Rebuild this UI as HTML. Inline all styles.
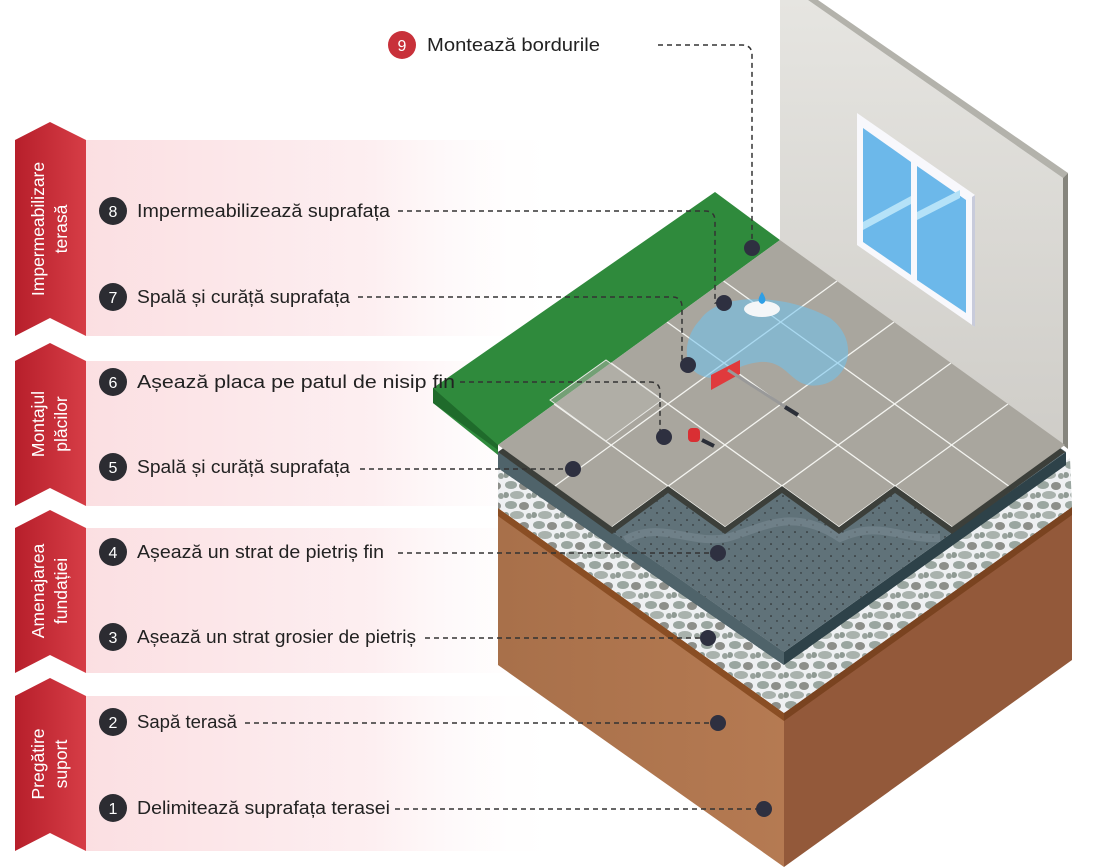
<!DOCTYPE html>
<html><head><meta charset="utf-8"><style>
html,body{margin:0;padding:0;background:#fff;}
svg{display:block;font-family:"Liberation Sans",sans-serif;}
</style></head><body>
<svg width="1100" height="867" viewBox="0 0 1100 867" xmlns="http://www.w3.org/2000/svg">
<defs>
<linearGradient id="pink" x1="0" x2="1" y1="0" y2="0"><stop offset="0" stop-color="#fbdfe2"/><stop offset="0.6" stop-color="#fdeff1"/><stop offset="1" stop-color="#ffffff" stop-opacity="0"/></linearGradient>
<linearGradient id="red" x1="0" x2="1"><stop offset="0" stop-color="#b71f2b"/><stop offset="1" stop-color="#d63d46"/></linearGradient>
<linearGradient id="soilL" x1="0" x2="1"><stop offset="0" stop-color="#a8704a"/><stop offset="1" stop-color="#b57a52"/></linearGradient>
<linearGradient id="wall" x1="0" x2="0" y1="0" y2="1"><stop offset="0" stop-color="#e6e5e1"/><stop offset="1" stop-color="#cfcdc8"/></linearGradient>
<pattern id="peb" width="28" height="20" patternUnits="userSpaceOnUse">
<rect width="28" height="20" fill="#eef0f2"/>
<ellipse cx="7" cy="5" rx="6" ry="4" fill="#9aa6a0"/><ellipse cx="20" cy="6" rx="5" ry="4" fill="#8d8f8a"/>
<ellipse cx="13" cy="15" rx="7" ry="4" fill="#a9b2ad"/><ellipse cx="25" cy="16" rx="3" ry="3" fill="#98a29c"/><ellipse cx="2" cy="15" rx="3" ry="3" fill="#8f9a94"/>
</pattern>
<pattern id="sand" width="12" height="12" patternUnits="userSpaceOnUse">
<rect width="12" height="12" fill="#607279"/><circle cx="3" cy="4" r="0.8" fill="#222"/><circle cx="9" cy="9" r="0.7" fill="#222"/>
</pattern>
<clipPath id="tclip"><polygon points="780,240 498,445 612,527 668,486 725,527 782,486 839,527 895,486 952,527 1065,445"/></clipPath>
</defs>

<rect x="86" y="140" width="480" height="196" fill="url(#pink)"/>
<rect x="86" y="361" width="480" height="145" fill="url(#pink)"/>
<rect x="86" y="528" width="480" height="145" fill="url(#pink)"/>
<rect x="86" y="696" width="480" height="155" fill="url(#pink)"/>
<polygon points="15,140 50,122 86,140 86,336 50,318 15,336" fill="url(#red)"/>
<polygon points="15,361 50,343 86,361 86,506 50,488 15,506" fill="url(#red)"/>
<polygon points="15,528 50,510 86,528 86,673 50,655 15,673" fill="url(#red)"/>
<polygon points="15,696 50,678 86,696 86,851 50,833 15,851" fill="url(#red)"/>
<g fill="#fff" font-size="17.5" text-anchor="middle">
<text transform="translate(44,229) rotate(-90)">Impermeabilizare</text>
<text transform="translate(67,229) rotate(-90)">terasă</text>
<text transform="translate(44,424) rotate(-90)">Montajul</text>
<text transform="translate(67,424) rotate(-90)">plăcilor</text>
<text transform="translate(44,591) rotate(-90)">Amenajarea</text>
<text transform="translate(67,591) rotate(-90)">fundației</text>
<text transform="translate(44,764) rotate(-90)">Pregătire</text>
<text transform="translate(67,764) rotate(-90)">suport</text>
</g>

<polygon points="780,0 808,0 1063,178 1063,445 780,240" fill="url(#wall)"/>
<polygon points="808,0 818,0 1068,173 1063,178" fill="#b3b2ab"/>
<polygon points="1063,178 1068,173 1068,449 1063,445" fill="#86857d"/>
<polygon points="857,113 975,195 975,327 857,245" fill="#f8f8fc"/>
<polygon points="972,197 975,195 975,327 972,325" fill="#c8cbdb"/>
<polygon points="863,128 911,162 911,275 863,242" fill="#6cb8ea"/>
<polygon points="917,166 966,200 966,313 917,280" fill="#6cb8ea"/>
<polygon points="863,222 911,196 911,204 863,230" fill="#b5e2f8"/>
<polygon points="917,212 960,190 960,198 917,220" fill="#b5e2f8"/>

<polygon points="433,388 715,192 780,240 498,445 498,455 433,403" fill="#2f8a3c"/>
<polygon points="433,388 433,403 498,450 498,445" fill="#1f6b2b"/>

<polygon points="498,508 784,713 784,867 498,665" fill="url(#soilL)"/>
<polygon points="784,713 1072,507 1072,660 784,867" fill="#93593a"/>
<polygon points="498,508 784,713 784,721 498,516" fill="#8a4e24"/>
<polygon points="784,713 1072,507 1072,515 784,721" fill="#7a4320"/>
<polygon points="498,462 784,665 1070,458 1072,507 784,713 498,508" fill="url(#peb)"/>
<polygon points="498,452 784,652 1066,452 1066,465 784,665 498,468" fill="#2e4249"/>
<polygon points="498,452 784,652 784,665 498,468" fill="#4f636a"/>
<polygon points="498,452 780,250 1066,452 784,652" fill="url(#sand)"/>
<path d="M625,540 C660,520 690,545 726,538 C760,530 790,505 840,538 C880,520 900,540 940,538" fill="none" stroke="#7a8b92" stroke-width="8" opacity="0.6"/>
<polygon transform="translate(0,7)" points="780,240 498,445 612,527 668,486 725,527 782,486 839,527 895,486 952,527 1065,445" fill="#3c3f3a"/>
<polygon points="780,240 498,445 612,527 668,486 725,527 782,486 839,527 895,486 952,527 1065,445" fill="#a9a69e"/>
<g clip-path="url(#tclip)" stroke="#f4f4f0" stroke-width="1.3">
<line x1="723.6" y1="281" x2="1008.6" y2="486"/><line x1="667" y1="322" x2="952" y2="527"/>
<line x1="611" y1="363" x2="896" y2="568"/><line x1="554" y1="404" x2="839" y2="609"/>
<line x1="837" y1="281" x2="555" y2="486"/><line x1="894" y1="322" x2="612" y2="527"/>
<line x1="951" y1="363" x2="669" y2="568"/><line x1="1008" y1="404" x2="726" y2="609"/>
</g>
<polygon points="550,400 606,360 662,400 606,441" fill="#b8b6ae" fill-opacity="0.5" stroke="#e8e8e4" stroke-width="1"/>
<path d="M700,320 C720,290 790,295 830,318 C860,340 850,380 820,385 C790,390 790,360 760,362 C730,365 720,385 700,375 C680,365 685,335 700,320 Z" fill="#6ec3f0" fill-opacity="0.55"/>
<ellipse cx="762" cy="309" rx="18" ry="8" fill="#f4f6f8"/>
<path d="M762,292 C758,298 757,302 762,304 C767,302 766,298 762,292Z" fill="#2f9fe6"/>
<polygon points="711,375 740,360 740,374 711,390" fill="#e03a3c"/>
<line x1="728" y1="370" x2="798" y2="415" stroke="#999" stroke-width="3"/>
<line x1="785" y1="407" x2="798" y2="415" stroke="#2b2f38" stroke-width="4"/>
<rect x="688" y="428" width="12" height="14" rx="4" fill="#d92f33"/>
<line x1="702" y1="440" x2="714" y2="446" stroke="#2b2f38" stroke-width="4"/>

<g fill="none" stroke="#333" stroke-width="1.5" stroke-dasharray="5,4">
<path d="M658,45 H742 Q752,45 752,55 V248"/>
<path d="M398,211 H705 Q715,211 715,221 V303 H724"/>
<path d="M358,297 H672 Q682,297 682,307 V365 H688"/>
<path d="M460,382 H650 Q660,382 660,392 V437 H664"/>
<path d="M360,469 H573"/>
<path d="M398,553 H718"/>
<path d="M425,638 H708"/>
<path d="M245,723 H718"/>
<path d="M395,809 H764"/>
</g>
<g fill="#2e3040">
<circle cx="752" cy="248" r="8"/><circle cx="724" cy="303" r="8"/><circle cx="688" cy="365" r="8"/>
<circle cx="664" cy="437" r="8"/><circle cx="573" cy="469" r="8"/><circle cx="718" cy="553" r="8"/>
<circle cx="708" cy="638" r="8"/><circle cx="718" cy="723" r="8"/><circle cx="764" cy="809" r="8"/>
</g>

<circle cx="402" cy="45" r="14" fill="#c8313a"/>
<g fill="#2c2c32">
<circle cx="113" cy="211" r="14"/><circle cx="113" cy="297" r="14"/><circle cx="113" cy="382" r="14"/>
<circle cx="113" cy="467" r="14"/><circle cx="113" cy="552" r="14"/><circle cx="113" cy="637" r="14"/>
<circle cx="113" cy="722" r="14"/><circle cx="113" cy="808" r="14"/>
</g>
<g fill="#fff" font-size="16" text-anchor="middle">
<text x="402" y="51">9</text><text x="113" y="217">8</text><text x="113" y="303">7</text><text x="113" y="388">6</text>
<text x="113" y="473">5</text><text x="113" y="558">4</text><text x="113" y="643">3</text><text x="113" y="728">2</text><text x="113" y="814">1</text>
</g>
<g fill="#222" font-size="18.5">
<text x="427" y="51" textLength="173" lengthAdjust="spacingAndGlyphs">Montează bordurile</text>
<text x="137" y="217" textLength="253" lengthAdjust="spacingAndGlyphs">Impermeabilizează suprafața</text>
<text x="137" y="303" textLength="213" lengthAdjust="spacingAndGlyphs">Spală și curăță suprafața</text>
<text x="137" y="388" textLength="318" lengthAdjust="spacingAndGlyphs">Așează placa pe patul de nisip fin</text>
<text x="137" y="473" textLength="213" lengthAdjust="spacingAndGlyphs">Spală și curăță suprafața</text>
<text x="137" y="558" textLength="247" lengthAdjust="spacingAndGlyphs">Așează un strat de pietriș fin</text>
<text x="137" y="643" textLength="279" lengthAdjust="spacingAndGlyphs">Așează un strat grosier de pietriș</text>
<text x="137" y="728" textLength="100" lengthAdjust="spacingAndGlyphs">Sapă terasă</text>
<text x="137" y="814" textLength="253" lengthAdjust="spacingAndGlyphs">Delimitează suprafața terasei</text>
</g>
</svg>
</body></html>
